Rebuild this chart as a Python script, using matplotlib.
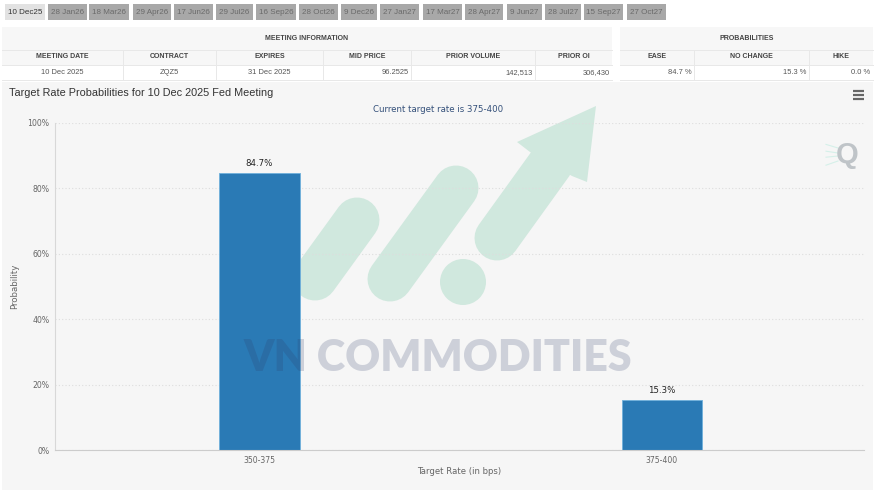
#!/usr/bin/env python3

# Target rate probabilities for the Dec 2025 Fed meeting, with table header and watermark.

import matplotlib

matplotlib.use("Agg")
from matplotlib import pyplot as plt
from matplotlib.patches import Circle, Polygon, Rectangle
from matplotlib.ticker import FuncFormatter

W, H = 883, 496

# data
rates = ["350-375", "375-400"]
probabilities = [84.7, 15.3]
bar_labels = ["84.7%", "15.3%"]
y_ticks = [0, 20, 40, 60, 80, 100]

tab_labels = ["10 Dec25", "28 Jan26", "18 Mar26", "29 Apr26", "17 Jun26", "29 Jul26",
              "16 Sep26", "28 Oct26", "9 Dec26", "27 Jan27", "17 Mar27", "28 Apr27",
              "9 Jun27", "28 Jul27", "15 Sep27", "27 Oct27"]
tab_edges = [(5, 45), (48, 87), (89, 129), (133, 171), (174, 213), (216, 253),
             (256, 296), (299, 338), (341, 377), (380, 419), (423, 462), (465, 503),
             (507, 542), (545, 581), (584, 623), (627, 666)]

info_columns = ["MEETING DATE", "CONTRACT", "EXPIRES", "MID PRICE", "PRIOR VOLUME", "PRIOR OI"]
info_values = ["10 Dec 2025", "ZQZ5", "31 Dec 2025", "96.2525", "142,513", "306,430"]
info_align = ["center", "center", "center", "right", "right", "right"]
info_edges = [2, 123, 216, 323, 411, 535, 612]

prob_columns = ["EASE", "NO CHANGE", "HIKE"]
prob_values = ["84.7 %", "15.3 %", "0.0 %"]
prob_edges = [620, 694, 809, 873]

SANS = "Liberation Sans"
AXIS_FONT = "DejaVu Sans"


def draw_table(ax, title, columns, values, aligns, edges):
    left, right = edges[0], edges[-1]
    ax.add_patch(Rectangle((left, 27), right - left, 38, fc="#f7f7f7", ec="none"))
    ax.add_patch(Rectangle((left, 65), right - left, 15, fc="white", ec="none"))
    ax.plot([left, right], [50, 50], color="#e8e8e8", lw=0.7)
    ax.plot([left, right], [65, 65], color="#e8e8e8", lw=0.7)
    ax.plot([left, right], [80, 80], color="#e8e8e8", lw=0.7)
    ax.text((left + right) / 2, 38.5, title, ha="center", va="center",
            fontsize=5.0, fontweight="bold", color="#444444", family=SANS)
    for i in range(len(columns)):
        x0, x1 = edges[i], edges[i + 1]
        if i > 0:
            ax.plot([x0, x0], [50, 80], color="#e8e8e8", lw=0.7)
        ax.text((x0 + x1) / 2, 57, columns[i], ha="center", va="center",
                fontsize=5.0, fontweight="bold", color="#444444", family=SANS)
        if aligns[i] == "center":
            ax.text((x0 + x1) / 2, 72.5, values[i], ha="center", va="center",
                    fontsize=5.4, color="#555555", family=SANS)
        else:
            ax.text(x1 - 2.5, 72.5, values[i], ha="right", va="center",
                    fontsize=5.4, color="#555555", family=SANS)


fig = plt.figure(figsize=(W / 100, H / 100), dpi=100, facecolor="white")

# background layer: page furniture, in pixel coordinates
bg = fig.add_axes([0, 0, 1, 1], zorder=0)
bg.set_xlim(0, W)
bg.set_ylim(H, 0)
bg.axis("off")

for i, (label, (x0, x1)) in enumerate(zip(tab_labels, tab_edges)):
    active = i == 0
    bg.add_patch(Rectangle((x0, 4), x1 - x0, 16, fc="#e2e2e2" if active else "#a8a8a8", ec="none"))
    bg.text((x0 + x1) / 2, 12, label, ha="center", va="center", fontsize=5.8,
            color="#333333" if active else "#6a6a6a", family=SANS)

draw_table(bg, "MEETING INFORMATION", info_columns, info_values, info_align, info_edges)
draw_table(bg, "PROBABILITIES", prob_columns, prob_values, ["right"] * 3, prob_edges)

bg.add_patch(Rectangle((2, 82), 871, 408, fc="#f6f6f6", ec="none"))
bg.text(9, 93, "Target Rate Probabilities for 10 Dec 2025 Fed Meeting", ha="left", va="center",
        fontsize=7.85, color="#333333", family=SANS)
bg.text(438, 110, "Current target rate is 375-400", ha="center", va="center",
        fontsize=6.2, color="#34507a", family=AXIS_FONT)

# menu icon
for y in [91, 95, 99]:
    bg.plot([852.5, 863.5], [y, y], color="#666666", lw=1.6, solid_capstyle="butt")

# logo shapes sit behind the bars
green = "#d0e8de"
stroke = 45 * 72 / 100
for (x0, y0, x1, y1) in [(315, 278, 357, 220), (390, 279, 456, 188), (497, 238, 551, 163)]:
    bg.plot([x0, x1], [y0, y1], color=green, lw=stroke, solid_capstyle="round")
bg.add_patch(Polygon([(596, 106), (517, 142), (530, 152), (572, 176), (587, 182)],
                     closed=True, fc=green, ec="none"))
bg.add_patch(Circle((463, 282), 23, fc=green, ec="none"))

# Q logo
bg.text(847, 155, "Q", ha="center", va="center", fontsize=21, fontweight="bold",
        color="#bfc4c8", family=SANS)
for y0, y1 in [(142, 148), (150, 153), (158, 156), (168, 161)]:
    bg.plot([826, 838], [y1 + (y0 - y1) * 0.6, y1], color="#d5f0e9", lw=0.8)

# main chart
ax = fig.add_axes([55 / W, 1 - 450 / H, (864 - 55) / W, (450 - 123) / H], zorder=1)
ax.set_facecolor("none")
x = range(len(rates))
bars = ax.bar(x, probabilities, width=0.2, color="#2a7ab5", edgecolor="#6fb1dc", linewidth=0.6)
for rect, label in zip(bars, bar_labels):
    ax.text(rect.get_x() + rect.get_width() / 2, rect.get_height() + 1.5, label,
            ha="center", va="bottom", fontsize=6.2, color="#222222", family=AXIS_FONT)

ax.set_xlim(-0.508, 1.502)
ax.set_ylim(0, 100)
ax.set_xticks(list(x))
ax.set_xticklabels(rates)
ax.set_yticks(y_ticks)
ax.yaxis.set_major_formatter(FuncFormatter(lambda v, pos: f"{v:.0f}%"))
ax.tick_params(axis="both", length=0, labelsize=5.6, labelcolor="#666666")
ax.tick_params(axis="x", pad=4)
ax.tick_params(axis="y", pad=4)
for label in ax.get_xticklabels() + ax.get_yticklabels():
    label.set_family(AXIS_FONT)
ax.yaxis.grid(True, color="#dddddd", lw=0.8, linestyle=(0, (1, 2)))
ax.set_axisbelow(True)
for side in ["top", "right"]:
    ax.spines[side].set_visible(False)
ax.spines["left"].set_color("#d8d8d8")
ax.spines["bottom"].set_color("#cccccc")
ax.set_xlabel("Target Rate (in bps)", fontsize=6.1, color="#666666", family=AXIS_FONT, labelpad=1.5)
ax.set_ylabel("Probability", fontsize=6.2, color="#666666", family=AXIS_FONT, labelpad=6)

# watermark text runs over the bars
top = fig.add_axes([0, 0, 1, 1], zorder=2)
top.set_xlim(0, W)
top.set_ylim(H, 0)
top.axis("off")
top.patch.set_alpha(0)
top.text(437.5, 358, "VN COMMODITIES", ha="center", va="center", fontsize=31, fontweight="heavy",
         color="#2b3a67", alpha=0.2, family="Lato")

plt.savefig("out.png", dpi=100)
plt.close()
